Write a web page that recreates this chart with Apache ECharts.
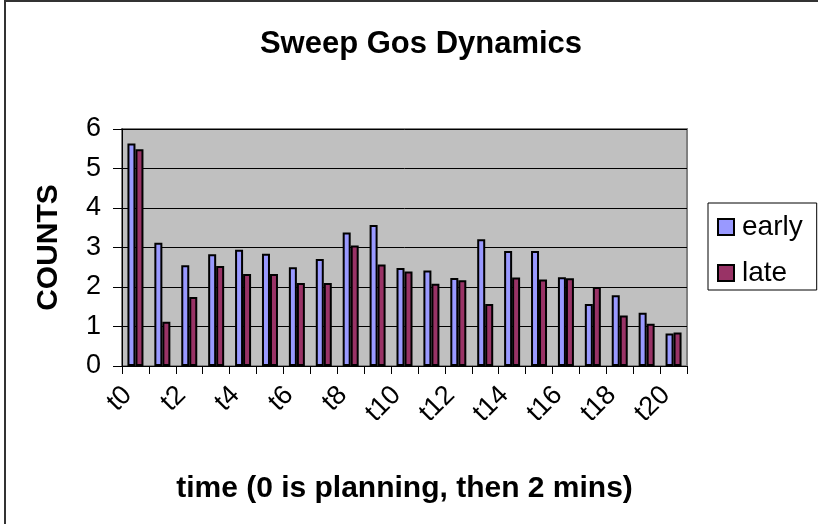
<!DOCTYPE html>
<html>
<head>
<meta charset="utf-8">
<script src="https://cdn.jsdelivr.net/npm/echarts@6/dist/echarts.min.js"></script>
<style>
html,body{margin:0;padding:0;background:#fff;}
#chart{width:818px;height:524px;}
</style>
</head>
<body>
<div id="chart"></div>
<script>
const categories = ['t0','t1','t2','t3','t4','t5','t6','t7','t8','t9','t10','t11','t12','t13','t14','t15','t16','t17','t18','t19','t20'];
const earlyValues = [5.63,3.12,2.55,2.83,2.94,2.84,2.50,2.71,3.38,3.57,2.48,2.42,2.23,3.21,2.91,2.91,2.25,1.57,1.79,1.35,0.82];
const lateValues  = [5.49,1.12,1.75,2.53,2.33,2.33,2.10,2.10,3.05,2.57,2.39,2.08,2.17,1.57,2.24,2.19,2.22,2.00,1.28,1.07,0.85];
const yTicks = [0,1,2,3,4,5,6];

const FONT = '"Liberation Sans", Arial, sans-serif';
const chart = echarts.init(document.getElementById('chart'), null, {renderer:'canvas'});
chart.setOption({
  animation: false,
  backgroundColor: '#fff',
  textStyle: {fontFamily: FONT, color: '#000'},
  title: {
    text: 'Sweep Gos Dynamics',
    left: 416, top: 24, textAlign: 'center',
    textStyle: {fontFamily: FONT, fontSize: 31, fontWeight: 'bold', color: '#000'}
  },
  graphic: [{
    type: 'rect', shape: {x: 5, y: 1, width: 900, height: 700},
    style: {fill: 'none', stroke: '#333', lineWidth: 2}, silent: true, z: 100
  }],
  legend: {
    orient: 'vertical', left: 708, top: 203,
    data: ['early','late'],
    icon: 'rect', itemWidth: 16, itemHeight: 16, itemGap: 18,
    borderColor: '#000', borderWidth: 1, padding: [10, 14, 3, 9],
    backgroundColor: '#fff',
    itemStyle: {borderColor: '#000', borderWidth: 2},
    textStyle: {fontFamily: FONT, fontSize: 28, color: '#000', padding: [0,0,0,3]}
  },
  grid: {
    left: 122, top: 129, width: 565, height: 237,
    show: true, backgroundColor: '#C0C0C0', borderColor: '#808080', borderWidth: 2,
    containLabel: false
  },
  xAxis: {
    type: 'category', data: categories,
    name: 'time (0 is planning, then 2 mins)', nameLocation: 'middle', nameGap: 108,
    nameTextStyle: {fontFamily: FONT, fontSize: 30, fontWeight: 'bold', color: '#000'},
    axisLine: {lineStyle: {color: '#000', width: 1}},
    axisTick: {show: true, alignWithLabel: false, interval: 0, length: 8, lineStyle: {color: '#000'}},
    axisLabel: {interval: 1, rotate: 45, fontSize: 27, color: '#000', fontFamily: FONT, margin: 17, padding: [0, 11, 0, 0]},
    splitLine: {show: false}
  },
  yAxis: {
    type: 'value', min: yTicks[0], max: yTicks[yTicks.length-1], interval: 1,
    name: 'COUNTS', nameLocation: 'middle', nameGap: 58, nameRotate: 90,
    nameTextStyle: {fontFamily: FONT, fontSize: 30, fontWeight: 'bold', color: '#000'},
    axisLine: {show: true, lineStyle: {color: '#000', width: 1}},
    axisTick: {show: true, length: 9, lineStyle: {color: '#000'}},
    axisLabel: {fontSize: 27, color: '#000', fontFamily: FONT, margin: 21},
    splitLine: {show: true, lineStyle: {color: '#000', width: 1}}
  },
  series: [
    {name: 'early', type: 'bar', data: earlyValues, barWidth: 8, barGap: '0%',
     itemStyle: {color: '#9999FF', borderColor: '#000', borderWidth: 2}},
    {name: 'late', type: 'bar', data: lateValues, barWidth: 8, barGap: '0%',
     itemStyle: {color: '#993366', borderColor: '#000', borderWidth: 2}}
  ]
});
</script>
</body>
</html>
